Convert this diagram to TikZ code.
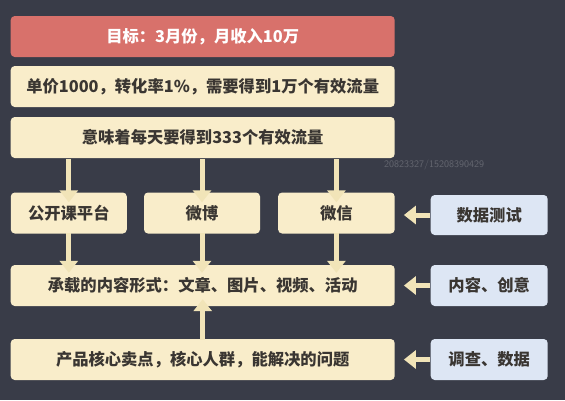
\documentclass[tikz,border=0pt]{standalone}
\usepackage{fontspec}
\newfontfamily\cjk{Noto Sans CJK SC}
\usetikzlibrary{arrows.meta}
\definecolor{bg}{HTML}{393C48}
\definecolor{cream}{HTML}{F9EDCA}
\definecolor{sky}{HTML}{DDE6F4}
\definecolor{redbox}{HTML}{D8716B}
\definecolor{ink}{HTML}{3A3632}
\definecolor{arrowc}{HTML}{F1E4B8}
\tikzset{
  box/.style={rounded corners=4pt, inner sep=0pt, font=\cjk\bfseries\fontsize{16.3}{18}\selectfont, text=ink},
  creambox/.style={box, fill=cream},
  skybox/.style={box, fill=sky},
  goalbox/.style={box, fill=redbox, text=white},
  blockarrow/.style={draw=arrowc, line width=5pt, -{Triangle[width=18pt,length=12pt]}, arrowc}
}
\begin{document}
\begin{tikzpicture}[x=1pt,y=-1pt]
\fill[bg] (0,0) rectangle (565,400);
\useasboundingbox (0,0) rectangle (565,400);
% main column
\node[goalbox, minimum width=384pt, minimum height=41pt] (goal) at (202.7,36.5) {目标：3月份，月收入10万};
\node[creambox, minimum width=384pt, minimum height=41pt] (cvr) at (202.7,86.5) {单价1000，转化率1\%，需要得到1万个有效流量};
\node[creambox, minimum width=384pt, minimum height=41pt] (daily) at (202.7,137.5) {意味着每天要得到333个有效流量};
% channels
\node[creambox, minimum width=116pt, minimum height=41pt] (gkk) at (68.8,213) {公开课平台};
\node[creambox, minimum width=116pt, minimum height=41pt] (wb) at (202,213) {微博};
\node[creambox, minimum width=116.6pt, minimum height=41pt] (wx) at (336.4,213) {微信};
\node[creambox, minimum width=384pt, minimum height=41pt] (form) at (202.7,285.5) {承载的内容形式：文章、图片、视频、活动};
\node[creambox, minimum width=384pt, minimum height=41pt] (core) at (202.7,359.5) {产品核心卖点，核心人群，能解决的问题};
% right column
\node[skybox, minimum width=117pt, minimum height=40pt] (test) at (489.2,215) {数据测试};
\node[skybox, minimum width=117pt, minimum height=41pt] (idea) at (489.2,285.5) {内容、创意};
\node[skybox, minimum width=117pt, minimum height=41pt] (survey) at (489.2,359.5) {调查、数据};
% watermark
\node[font=\sffamily\fontsize{10}{11}\selectfont, text=white, opacity=0.22, anchor=west, inner sep=0pt] (wm) at (384,165) {20823327/15208390429};
% arrows
\draw[blockarrow] (daily.south -| gkk) ++(0,1) -- ([yshift=-10pt]gkk.north);
\draw[blockarrow] (daily.south -| wb) ++(0,1) -- ([yshift=-10pt]wb.north);
\draw[blockarrow] (daily.south -| wx) ++(0,1) -- ([yshift=-10pt]wx.north);
\draw[blockarrow] ([yshift=1pt]gkk.south) -- ([yshift=-8pt]form.north -| gkk);
\draw[blockarrow] ([yshift=1pt]wb.south) -- ([yshift=-8pt]form.north -| wb);
\draw[blockarrow] ([yshift=1pt]wx.south) -- ([yshift=-8pt]form.north -| wx);
\draw[blockarrow] ([yshift=-1pt]core.north) -- ([yshift=7pt]form.south);
\draw[blockarrow] ([xshift=-1pt]test.west) -- ([xshift=9pt]wx.east |- test.west);
\draw[blockarrow] ([xshift=-1pt]idea.west) -- ([xshift=9pt]form.east);
\draw[blockarrow] ([xshift=-1pt]survey.west) -- ([xshift=9pt]core.east);
\end{tikzpicture}
\end{document}
